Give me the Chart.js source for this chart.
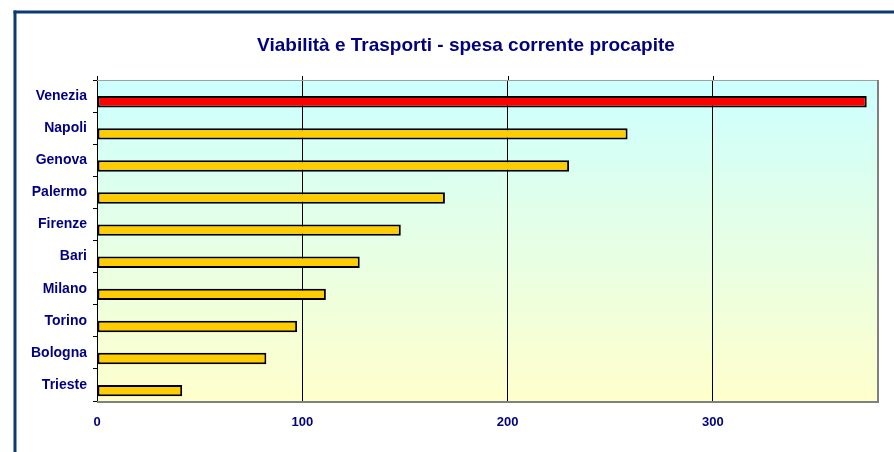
<!DOCTYPE html>
<html>
<head>
<meta charset="utf-8">
<script src="https://cdn.jsdelivr.net/npm/chart.js@4/dist/chart.umd.min.js"></script>
<style>
  html, body { margin: 0; padding: 0; background: #fff; overflow: hidden; }
  #wrap { width: 894px; height: 452px; }
</style>
</head>
<body>
<div id="wrap"><canvas id="chart" width="894" height="452"></canvas></div>
<script>
const titleText = 'Viabilità e Trasporti - spesa corrente procapite';
const cities = ['Venezia', 'Napoli', 'Genova', 'Palermo', 'Firenze', 'Bari', 'Milano', 'Torino', 'Bologna', 'Trieste'];
const spesa = [375, 258.5, 230, 169.5, 148, 128, 111.5, 97.5, 82.5, 41.5];
const xTicks = [0, 100, 200, 300];
const highlight = 'Venezia';

const navy = '#000080';
const font = "Arial, 'Liberation Sans', sans-serif";

// the original sheet is cropped on the right, so its title sits right of centre
const frame = {
    id: 'frame',
    beforeDraw(chart) {
        const c = chart.ctx, a = chart.chartArea;
        c.save();
        c.fillStyle = '#fff';
        c.fillRect(0, 0, chart.width, chart.height);
        c.fillStyle = '#0a3a70';
        c.fillRect(13.5, 10.5, 3, chart.height);
        c.fillRect(13.5, 10.5, chart.width, 3);
        const g = c.createLinearGradient(0, a.top, 0, a.bottom);
        g.addColorStop(0, '#ccffff');
        g.addColorStop(1, '#ffffcc');
        c.fillStyle = g;
        c.fillRect(a.left, a.top, a.right - a.left, a.bottom - a.top);
        c.fillStyle = navy;
        c.font = 'bold 19px ' + font;
        c.textAlign = 'center';
        c.textBaseline = 'middle';
        c.fillText(titleText, 466, 46);
        c.restore();
    },
    afterDraw(chart) {
        const c = chart.ctx, a = chart.chartArea, x = chart.scales.x;
        c.save();
        c.strokeStyle = '#000';
        c.lineWidth = 1;
        x.ticks.forEach(t => {
            const px = Math.round(x.getPixelForValue(t.value)) + 0.5;
            c.beginPath();
            c.moveTo(px, a.top - 4);
            c.lineTo(px, a.top);
            c.stroke();
        });
        c.strokeStyle = '#a0a0a0';
        c.beginPath();
        c.moveTo(a.left, a.top + 0.5);
        c.lineTo(a.right, a.top + 0.5);
        c.stroke();
        c.strokeStyle = '#808080';
        c.lineWidth = 2;
        c.beginPath();
        c.moveTo(a.right + 1, a.top);
        c.lineTo(a.right + 1, a.bottom + 2);
        c.moveTo(a.left, a.bottom + 1);
        c.lineTo(a.right + 2, a.bottom + 1);
        c.stroke();
        c.restore();
    }
};

new Chart(document.getElementById('chart'), {
    type: 'bar',
    data: {
        labels: cities,
        datasets: [
            { data: cities.map(() => null) },
            {
                data: spesa,
                backgroundColor: ctx => cities[ctx.dataIndex] === highlight ? '#ff0000' : '#ffcc00',
                borderColor: '#000',
                borderWidth: 2,
                borderSkipped: false
            }
        ]
    },
    options: {
        indexAxis: 'y',
        responsive: false,
        animation: false,
        devicePixelRatio: 1,
        categoryPercentage: 0.71,
        barPercentage: 1,
        layout: { padding: { left: 0, right: 17, top: 80, bottom: 0 } },
        plugins: {
            legend: { display: false },
            tooltip: { enabled: false },
            title: { display: false }
        },
        scales: {
            x: {
                min: 0,
                max: 380,
                afterBuildTicks: s => { s.ticks = xTicks.map(v => ({ value: v })); },
                afterFit: s => { s.height = 51; },
                border: { display: false },
                grid: { color: '#000', lineWidth: 1, drawTicks: false },
                ticks: {
                    padding: 14,
                    color: navy,
                    font: { family: font, size: 13, weight: 'bold' }
                }
            },
            y: {
                afterFit: s => { s.width = 97; },
                border: { display: true, color: '#000', width: 1 },
                grid: { offset: true, drawOnChartArea: false, drawTicks: true, tickLength: 4, color: '#000' },
                ticks: {
                    padding: 6,
                    color: navy,
                    font: { family: font, size: 14, weight: 'bold' }
                }
            }
        }
    },
    plugins: [frame]
});
</script>
</body>
</html>
